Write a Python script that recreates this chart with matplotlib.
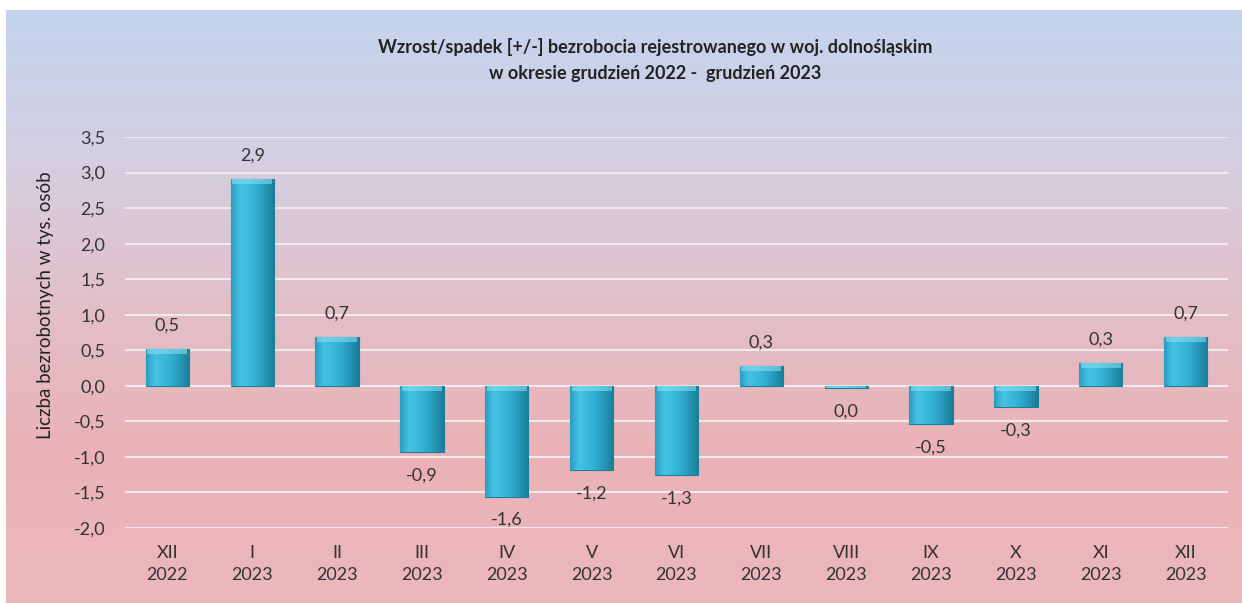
import numpy as np
import matplotlib
matplotlib.use("Agg")
import matplotlib.pyplot as plt
from matplotlib.colors import LinearSegmentedColormap

plt.rcParams['font.family'] = ['Lato', 'DejaVu Sans']

# data
months = ["XII", "I", "II", "III", "IV", "V", "VI", "VII", "VIII", "IX", "X", "XI", "XII"]
years = ["2022"] + ["2023"] * 12
change = [0.52, 2.91, 0.69, -0.93, -1.56, -1.19, -1.26, 0.28, -0.03, -0.54, -0.30, 0.32, 0.69]
yticks = [-2.0, -1.5, -1.0, -0.5, 0.0, 0.5, 1.0, 1.5, 2.0, 2.5, 3.0, 3.5]

title = ("Wzrost/spadek [+/-] bezrobocia rejestrowanego w woj. dolnośląskim\n"
         "w okresie grudzień 2022 -  grudzień 2023")
ylabel = "Liczba bezrobotnych w tys. osób"

W, H = 1242, 603
fig = plt.figure(figsize=(W / 100, H / 100), dpi=100)
fig.patch.set_facecolor("white")

# gradient background panel (blue at top -> pink at bottom)
bg = fig.add_axes([6 / W, 0, (W - 6) / W, (H - 10) / H])
bg_cmap = LinearSegmentedColormap.from_list(
    "bg", ["#c3d4ee", "#d4cfe0", "#e2bfc8", "#eab2b6", "#ecb8bc"])
bg.imshow(np.linspace(0, 1, 256).reshape(-1, 1), cmap=bg_cmap, aspect="auto",
          extent=[0, 1, 0, 1])
bg.set_axis_off()

ax = fig.add_axes([125 / W, 75 / H, 1103 / W, 391 / H])
ax.patch.set_alpha(0)
x = np.arange(len(change))

bars = ax.bar(x, change, width=0.51, color="#35b2d4", edgecolor="#1d7d98",
              linewidth=0.8, zorder=3)

# shaded fill for each bar
bar_cmap = LinearSegmentedColormap.from_list(
    "bar", ["#2a9dbf", "#45c2e2", "#3ab9db", "#31acce", "#2495b5", "#1a7d98"])
grad = np.linspace(0, 1, 128).reshape(1, -1)
for b, v in zip(bars, change):
    x0, w = b.get_x(), b.get_width()
    y0, h = b.get_y(), b.get_height()
    im = ax.imshow(grad, cmap=bar_cmap, aspect="auto", zorder=3.5,
                   extent=[x0, x0 + w, y0, y0 + h])
    im.set_clip_path(b)
    # light bevel along the top edge
    top = max(y0, y0 + h)
    bev = min(0.07, abs(h))
    ax.add_patch(plt.Rectangle((x0 + 0.02, top - bev), w - 0.04, bev,
                               color="#8fe2f4", alpha=0.55, lw=0, zorder=3.6))

for xi, v in zip(x, change):
    lab = f"{v:.1f}".replace("-0.0", "0.0").replace(".", ",")
    if v >= 0:
        ax.annotate(lab, (xi, v), xytext=(0, 11), textcoords="offset points",
                    ha="center", va="bottom", fontsize=13, color="#333333")
    else:
        ax.annotate(lab, (xi, v), xytext=(0, -11), textcoords="offset points",
                    ha="center", va="top", fontsize=13, color="#333333")

ax.set_xlim(-0.5, len(change) - 0.5)
ax.set_ylim(-2.0, 3.5)
ax.set_yticks(yticks)
ax.set_yticklabels([f"{t:.1f}".replace(".", ",") for t in yticks])
ax.set_xticks(x)
ax.set_xticklabels([f"{m}\n{y}" for m, y in zip(months, years)],
                   linespacing=1.5)
ax.tick_params(axis="both", length=0, labelsize=13, colors="#333333")
ax.tick_params(axis="y", pad=14)
ax.tick_params(axis="x", pad=12)
ax.grid(axis="y", color="#f2eaee", linewidth=1.5, zorder=0)
for s in ax.spines.values():
    s.set_visible(False)

ax.set_ylabel(ylabel, fontsize=13.5, color="#222222")
ax.yaxis.set_label_coords(-0.064, 0.57)

fig.text(655 / W, 1 - 60 / H, title, ha="center", va="center",
         fontsize=13, fontweight="bold", color="#222222", linespacing=1.6)

fig.savefig("out.png", dpi=100)
